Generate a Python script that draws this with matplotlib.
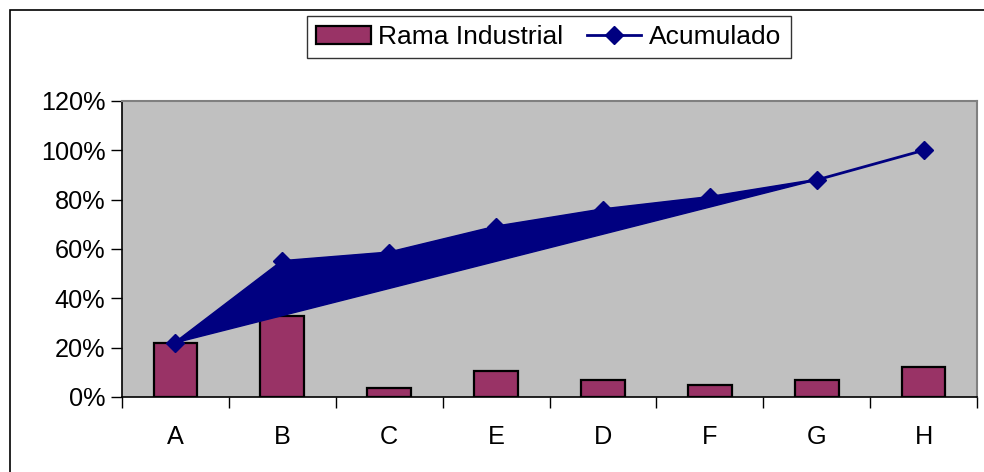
import matplotlib
matplotlib.use("Agg")
import matplotlib.pyplot as plt
from matplotlib.patches import Rectangle, Polygon
from matplotlib.lines import Line2D
from matplotlib.ticker import FuncFormatter, FixedLocator

plt.rcParams['font.family'] = ['Liberation Sans', 'DejaVu Sans']

categories = ["A", "B", "C", "E", "D", "F", "G", "H"]
rama_industrial = [22, 33, 3.5, 10.5, 7, 5, 7, 12]
acumulado = [22, 55, 58.5, 69, 76, 81, 88, 100]
y_ticks = [0, 20, 40, 60, 80, 100, 120]

BAR_COLOR = "#993366"
LINE_COLOR = "#000080"
PLOT_BG = "#C0C0C0"

fig = plt.figure(figsize=(9.84, 4.72), dpi=100)
fig.patch.set_facecolor("white")

# outer chart frame
fig.patches.append(Rectangle((10 / 984, -0.05), 1.2, 1 - 10 / 472 + 0.05,
                             transform=fig.transFigure, fill=False,
                             edgecolor="black", linewidth=1.2))

ax = fig.add_axes([122 / 984, 75 / 472, 855 / 984, 296 / 472])
ax.set_facecolor(PLOT_BG)

x = list(range(len(categories)))
ax.bar(x, rama_industrial, width=0.41, color=BAR_COLOR, edgecolor="black",
       linewidth=1.6, zorder=2)

# filled band between the cumulative curve and the chord from A to G
poly_pts = [(x[i], acumulado[i]) for i in range(7)]
ax.add_patch(Polygon(poly_pts, closed=True, facecolor=LINE_COLOR,
                     edgecolor=LINE_COLOR, linewidth=1, zorder=3))

ax.plot(x, acumulado, color=LINE_COLOR, linewidth=2, marker="D",
        markersize=9.5, markerfacecolor=LINE_COLOR, markeredgecolor=LINE_COLOR,
        zorder=4)

ax.set_xlim(-0.5, len(categories) - 0.5)
ax.set_ylim(0, 120)
ax.set_yticks(y_ticks)
ax.yaxis.set_major_formatter(FuncFormatter(lambda v, p: f"{int(v)}%"))
ax.set_xticks(x)
ax.set_xticklabels(categories)
ax.xaxis.set_minor_locator(FixedLocator([i - 0.5 for i in range(len(categories) + 1)]))
ax.tick_params(axis="x", which="major", length=0, pad=20, labelsize=18.2)
ax.tick_params(axis="x", which="minor", length=8, width=1, direction="out", color="black")
ax.tick_params(axis="y", length=8, width=1, direction="out", pad=4, labelsize=18.2, color="black")

for side in ("top", "right"):
    ax.spines[side].set_color("#808080")
    ax.spines[side].set_linewidth(1.5)
for side in ("left", "bottom"):
    ax.spines[side].set_color("black")
    ax.spines[side].set_linewidth(1.2)

handles = [
    Rectangle((0, 0), 1, 1, facecolor=BAR_COLOR, edgecolor="black", linewidth=1.6),
    Line2D([0], [0], color=LINE_COLOR, linewidth=2, marker="D", markersize=9,
           markerfacecolor=LINE_COLOR, markeredgecolor=LINE_COLOR),
]
leg = fig.legend(handles, ["Rama Industrial", "Acumulado"], loc="center",
                 bbox_to_anchor=(549 / 984, 1 - 37 / 472), ncol=2,
                 fontsize=19, frameon=True, fancybox=False, edgecolor="black",
                 handlelength=2.05, handletextpad=0.3, columnspacing=0.9,
                 borderpad=0.35, borderaxespad=0)
leg.get_frame().set_linewidth(1)

fig.savefig("out.png", dpi=100, facecolor="white")
